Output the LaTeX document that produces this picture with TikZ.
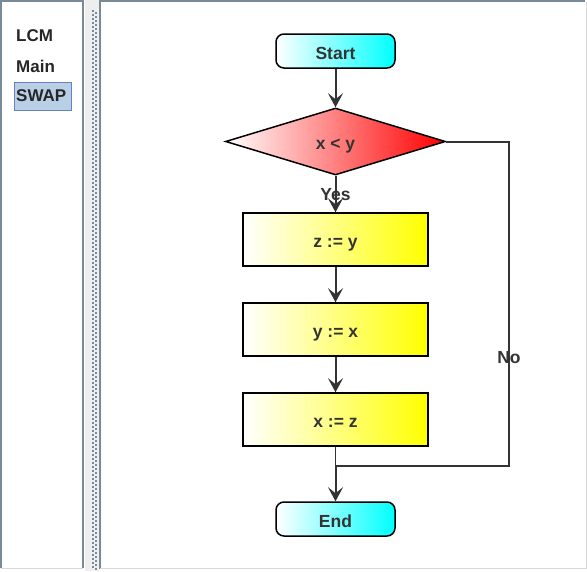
\documentclass[tikz,border=0pt]{standalone}
\usepackage{fontspec}
\setmainfont{Liberation Sans}
\usetikzlibrary{shapes.geometric,arrows.meta}
\definecolor{framegray}{HTML}{7A8A99}
\definecolor{ink}{HTML}{333333}
\definecolor{selfill}{HTML}{B8CFE5}
\definecolor{seldraw}{HTML}{6382BF}
\definecolor{splitgray}{HTML}{EEEEEE}
\tikzset{
  boxtext/.style={text=ink, text height=16pt, text depth=0pt, font=\fontsize{17.5}{20}\selectfont\bfseries},
  terminal/.style={boxtext, draw=black, line width=1.5pt, rounded corners=8pt, left color=white, right color=cyan, minimum width=119pt, minimum height=34pt, inner sep=0pt},
  decision/.style={boxtext, diamond, draw=black, line width=1.5pt, left color=white, right color=red, minimum width=220pt, minimum height=67pt, inner sep=0pt},
  process/.style={boxtext, draw=black, line width=1.5pt, left color=white, right color=yellow, minimum width=185pt, minimum height=53pt, inner sep=0pt},
  flow/.style={draw=ink, line width=2pt, -{Stealth[length=14pt,width=15pt,inset=6pt]}},
  link/.style={draw=ink, line width=2pt},
  tag/.style={text=ink, inner sep=0pt, font=\fontsize{17.5}{20}\selectfont\bfseries},
  menu/.style={anchor=west, inner sep=0pt, text=black!85, font=\fontsize{17}{20}\selectfont\bfseries}
}
\begin{document}
\begin{tikzpicture}[x=1pt, y=-1pt]
  \useasboundingbox (0,0) rectangle (587,571);
  \fill[white] (0,0) rectangle (587,571);
  % left panel and splitter
  \draw[framegray, line width=1.5pt] (1,568) -- (1,1) -- (83,1) -- (83,568);
  \fill[splitgray] (85,0) rectangle (99,571);
  \foreach \y in {10,14,...,566} {
    \fill[framegray] (92,\y) rectangle (93.5,\y+1.5);
    \fill[framegray] (95,\y+2) rectangle (96.5,\y+3.5);
  }
  % right panel
  \draw[framegray, line width=2pt] (100,569) -- (100,1) -- (585,1);
  \draw[black!15, line width=1pt] (586,2) -- (586,568) -- (100,568);
  \draw[black!15, line width=1pt] (1,568) -- (83,568);
  % list of programs
  \node[menu] (lcm) at (16,36) {LCM};
  \node[menu] (main) at (16,66) {Main};
  \draw[seldraw, fill=selfill, line width=1pt] (14,82) rectangle (71,110);
  \node[menu] (swap) at (16,96) {SWAP};
  % flowchart
  \node[terminal] (start) at (335.5,51) {Start};
  \node[decision] (cond) at (335.5,141.5) {x < y};
  \node[process] (zy) at (335.5,239.5) {z := y};
  \node[process] (yx) at (335.5,329.5) {y := x};
  \node[process] (xz) at (335.5,419.5) {x := z};
  \node[terminal] (stop) at (335.5,519) {End};
  \coordinate (join) at (335.5,466);
  \coordinate (bend) at (509,466);
  \draw[flow] (start) -- (cond);
  \draw[flow] (cond) -- (zy);
  \draw[flow] (zy) -- (yx);
  \draw[flow] (yx) -- (xz);
  \draw[ink, line width=1.3pt] (xz) -- (join);
  \draw[flow] (join) -- (stop);
  \draw[link] (cond.east) -| (bend) -- (join);
  \node[tag] (yes) at (335.5,195) {Yes};
  \node[tag] (no) at (509,358) {No};
\end{tikzpicture}
\end{document}
